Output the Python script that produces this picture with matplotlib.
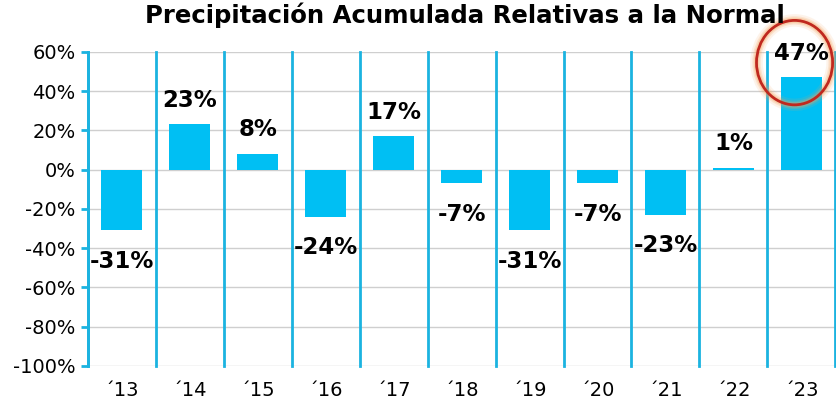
import matplotlib.pyplot as plt
from matplotlib.patches import Ellipse

# data
years = ["´13", "´14", "´15", "´16", "´17", "´18", "´19", "´20", "´21", "´22", "´23"]
values = [-31, 23, 8, -24, 17, -7, -31, -7, -23, 1, 47]
yticks = [-100, -80, -60, -40, -20, 0, 20, 40, 60]

barColor = "#00BFF3"
lineColor = "#1BB3E0"

fig = plt.figure(figsize=(8.37, 4.08), dpi=100)
ax = fig.add_axes([0.105, 0.103, 0.893, 0.77])

x = list(range(len(years)))
ax.bar(x, values, width=0.6, color=barColor, zorder=3)

# horizontal grid
for t in yticks:
    ax.axhline(t, color="#cfcfcf", lw=1, zorder=1)

# cyan separators between years
for i in range(len(years) + 1):
    ax.axvline(i - 0.5, color=lineColor, lw=2, zorder=2, clip_on=False)

ax.set_xlim(-0.5, len(years) - 0.5)
ax.set_ylim(-100, 60)
ax.set_yticks(yticks)
ax.set_yticklabels([f"{t}%" for t in yticks], fontsize=14)
ax.set_xticks(x)
ax.set_xticklabels(years, fontsize=14)
ax.tick_params(axis="x", length=0, pad=11)
ax.tick_params(axis="y", length=5, width=2, color=lineColor, pad=4)
for s in ["top", "right", "bottom"]:
    ax.spines[s].set_visible(False)
ax.spines["left"].set_color(lineColor)
ax.spines["left"].set_linewidth(2)

# value labels
for xi, v in zip(x, values):
    if v >= 0:
        ax.annotate(f"{v}%", (xi, v), xytext=(0, 9), textcoords="offset points",
                    ha="center", va="bottom", fontsize=16.5, fontweight="bold", zorder=5)
    else:
        ax.annotate(f"{v}%", (xi, v), xytext=(0, -14), textcoords="offset points",
                    ha="center", va="top", fontsize=16.5, fontweight="bold", zorder=5)

# red circle highlighting the last year, with an orange glow
cx, cy = 9.9, 54.5
for w, a in [(9, 0.12), (6, 0.2), (4, 0.3)]:
    ax.add_patch(Ellipse((cx, cy), 1.12, 43, fill=False, ec="#F5A05A", lw=w,
                         alpha=a, clip_on=False, zorder=4))
ax.add_patch(Ellipse((cx, cy), 1.12, 43, fill=False, ec="#C0281E", lw=2,
                     clip_on=False, zorder=4))

fig.suptitle("Precipitación Acumulada Relativas a la Normal", x=0.555, y=0.995,
             fontsize=17.6, fontweight="bold")

fig.savefig("out.png", dpi=100)
